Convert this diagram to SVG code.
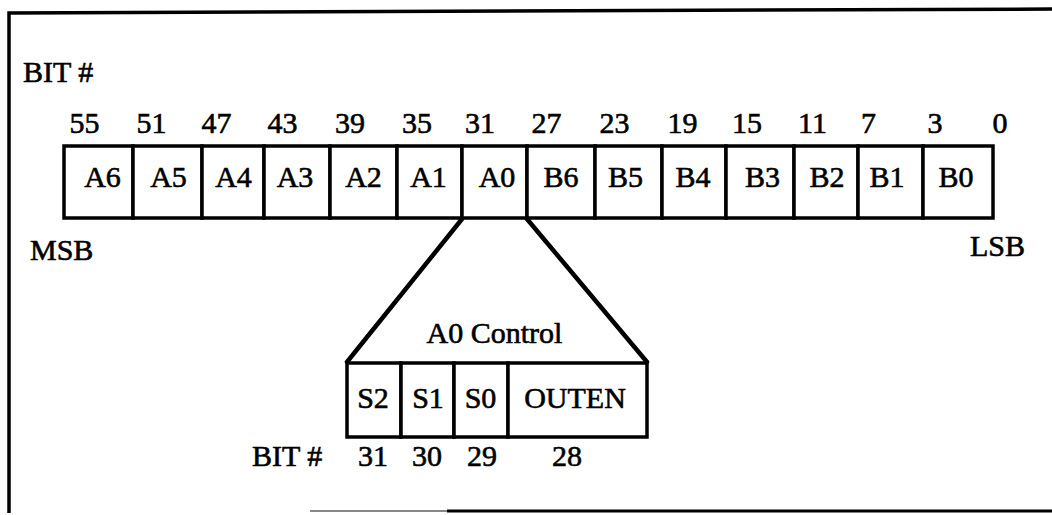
<svg xmlns="http://www.w3.org/2000/svg" width="1052" height="515" viewBox="0 0 1052 515">
<style>
text{font-family:"Liberation Serif","Times New Roman",serif;font-size:30px;fill:#000;stroke:#000;stroke-width:0.6}
.c{text-anchor:middle}
.cell{fill:#fff;stroke:#000;stroke-width:3.5}
.frame{fill:none;stroke:#000;stroke-width:3.5}
.conn{fill:none;stroke:#000;stroke-width:4.5;stroke-linecap:round}
</style>
<rect width="1052" height="515" fill="#fff"/>
<g id="frame">
<polyline class="frame" points="1052,9 9,13 9,513"/>
<line x1="310" y1="511" x2="447" y2="511" stroke="#888" stroke-width="2"/>
<line x1="447" y1="511" x2="1052" y2="511" stroke="#000" stroke-width="3"/>
</g>
<g id="labels">
<text x="23" y="82">BIT #</text>
<text x="30" y="260">MSB</text>
<text x="970" y="256">LSB</text>
</g>
<g id="bit-numbers">
<text class="c" x="84.5" y="133">55</text>
<text class="c" x="151.5" y="133">51</text>
<text class="c" x="216.5" y="133">47</text>
<text class="c" x="282.5" y="133">43</text>
<text class="c" x="350" y="133">39</text>
<text class="c" x="417" y="133">35</text>
<text class="c" x="480" y="133">31</text>
<text class="c" x="546.5" y="133">27</text>
<text class="c" x="614.5" y="133">23</text>
<text class="c" x="682.5" y="133">19</text>
<text class="c" x="747" y="133">15</text>
<text class="c" x="812.5" y="133">11</text>
<text class="c" x="868.5" y="133">7</text>
<text class="c" x="935" y="133">3</text>
<text class="c" x="1000" y="133">0</text>
</g>
<g id="register">
<g id="A6"><rect class="cell" x="64" y="146" width="69" height="72"/><text class="c" x="102.5" y="187">A6</text></g>
<g id="A5"><rect class="cell" x="133" y="146" width="69" height="72"/><text class="c" x="168.5" y="187">A5</text></g>
<g id="A4"><rect class="cell" x="202" y="146" width="62" height="72"/><text class="c" x="233.5" y="187">A4</text></g>
<g id="A3"><rect class="cell" x="264" y="146" width="66" height="72"/><text class="c" x="295" y="187">A3</text></g>
<g id="A2"><rect class="cell" x="330" y="146" width="67" height="72"/><text class="c" x="363.5" y="187">A2</text></g>
<g id="A1"><rect class="cell" x="397" y="146" width="65" height="72"/><text class="c" x="428.5" y="187">A1</text></g>
<g id="A0"><rect class="cell" x="462" y="146" width="65" height="72"/><text class="c" x="497" y="187">A0</text></g>
<g id="B6"><rect class="cell" x="527" y="146" width="68" height="72"/><text class="c" x="561" y="187">B6</text></g>
<g id="B5"><rect class="cell" x="595" y="146" width="67" height="72"/><text class="c" x="625.5" y="187">B5</text></g>
<g id="B4"><rect class="cell" x="662" y="146" width="64" height="72"/><text class="c" x="693" y="187">B4</text></g>
<g id="B3"><rect class="cell" x="726" y="146" width="68" height="72"/><text class="c" x="762.5" y="187">B3</text></g>
<g id="B2"><rect class="cell" x="794" y="146" width="64" height="72"/><text class="c" x="827" y="187">B2</text></g>
<g id="B1"><rect class="cell" x="858" y="146" width="65" height="72"/><text class="c" x="887" y="187">B1</text></g>
<g id="B0"><rect class="cell" x="923" y="146" width="70" height="72"/><text class="c" x="956" y="187">B0</text></g>
</g>
<g id="connectors">
<line class="conn" x1="462" y1="219" x2="347" y2="362"/>
<line class="conn" x1="527" y1="219" x2="647" y2="362"/>
</g>
<g id="A0-control">
<text class="c" x="494.5" y="343">A0 Control</text>
<g id="S2"><rect class="cell" x="347" y="363" width="54" height="74"/><text class="c" x="373" y="408">S2</text></g>
<g id="S1"><rect class="cell" x="401" y="363" width="53" height="74"/><text class="c" x="428" y="408">S1</text></g>
<g id="S0"><rect class="cell" x="454" y="363" width="54" height="74"/><text class="c" x="480.5" y="408">S0</text></g>
<g id="OUTEN"><rect class="cell" x="508" y="363" width="139" height="74"/><text class="c" x="575" y="408">OUTEN</text></g>
<text x="252" y="466">BIT #</text>
<text class="c" x="373" y="466">31</text>
<text class="c" x="427" y="466">30</text>
<text class="c" x="482" y="466">29</text>
<text class="c" x="567" y="466">28</text>
</g>
</svg>
